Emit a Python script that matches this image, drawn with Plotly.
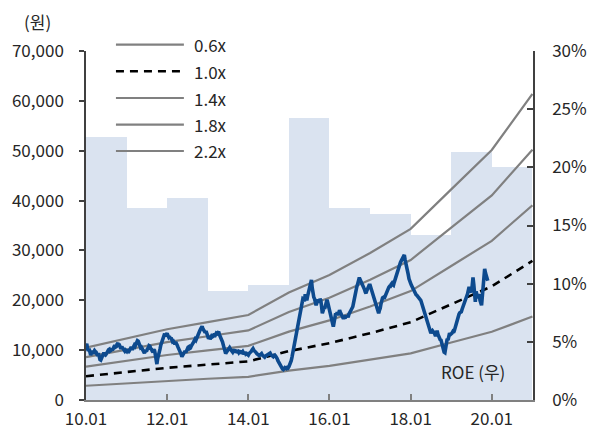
import pandas as pd
import plotly.graph_objects as go

# ---- data -------------------------------------------------------------
years = [2010, 2011, 2012, 2013, 2014, 2015, 2016, 2017, 2018, 2019, 2020]
roe_pct = [22.6, 16.5, 17.4, 9.4, 9.85, 24.2, 16.5, 15.95, 14.2, 21.3, 20.0]

# book value per share at the start of each year (원)
bps_years = [2010, 2011, 2012, 2013, 2014, 2015, 2016, 2017, 2018, 2019, 2020, 2021]
bps = [4770, 5600, 6450, 7100, 7750, 9800, 11400, 13400, 15600, 19200, 22800, 27900]

pbr_multiples = [0.6, 1.0, 1.4, 1.8, 2.2]
pbr_labels = ["0.6x", "1.0x", "1.4x", "1.8x", "2.2x"]

# weekly share price (원), one row per quarter, each year starting in the first week of January
weekly_price = {
    2010: [10800, 11300, 10200, 9900, 10300, 9600, 9000, 9400, 9900, 9300, 9500, 9900, 9700,
           9600, 9200, 8900, 9400, 8600, 8100, 8000, 8500, 8800, 9300, 9500, 9100, 9000,
           9200, 9600, 9800, 10100, 10200, 9800, 9900, 10300, 10000, 10500, 10900, 11000, 10600,
           10700, 11200, 11400, 11000, 11000, 10600, 10300, 10700, 10500, 10400, 10100, 9800, 10000],
    2011: [9800, 10200, 9500, 9700, 10000, 10400, 10600, 10300, 10300, 10700, 11000, 10800, 11300,
           11500, 11900, 11800, 11300, 11000, 10500, 10600, 10200, 10000, 9700, 9400, 9800, 9900,
           9900, 10300, 10400, 10900, 10800, 10300, 10200, 9800, 9600, 10100, 9900, 9100, 8000,
           7200, 8300, 8800, 9500, 10200, 11000, 11600, 12100, 12700, 12900, 13300, 12800, 13400],
    2012: [13400, 12900, 12600, 12800, 12300, 12500, 12000, 11700, 11800, 11500, 11200, 11600, 11000,
           11000, 10600, 10300, 10000, 9600, 9200, 8700, 9000, 9200, 9600, 9800, 9500, 10000,
           10200, 10600, 10700, 10300, 10400, 10800, 11000, 11400, 11600, 11900, 12200, 12000, 12500,
           12700, 13200, 13600, 13900, 14200, 14600, 14800, 14300, 14000, 13700, 13500, 13800, 13000],
    2013: [12800, 12300, 12600, 12200, 12700, 13000, 13200, 12800, 12900, 13300, 13100, 13400, 13300,
           13500, 13700, 13100, 12800, 12400, 12000, 11600, 11000, 10400, 9800, 9300, 9600, 9900,
           9900, 10300, 10500, 10200, 10000, 9700, 9600, 9900, 9900, 10100, 9500, 9700, 9800,
           9800, 9500, 9600, 9900, 9300, 9500, 9700, 9400, 9400, 9600, 9200, 9300, 9000],
    2014: [9000, 9300, 9400, 9700, 9800, 10100, 10300, 10000, 9900, 9600, 9500, 9300, 9100,
           9100, 8900, 9000, 9200, 9300, 9000, 8800, 8600, 8600, 8800, 8900, 9100, 9200,
           9200, 9400, 9400, 9100, 9000, 8800, 8700, 8900, 9000, 8800, 8600, 8300, 7900,
           7600, 7200, 6900, 6600, 6300, 6200, 6100, 6300, 6500, 6400, 6300, 6500, 6400],
    2015: [6700, 7000, 7400, 7900, 8600, 9500, 10400, 11200, 12000, 12900, 13500, 14500, 15200,
           15800, 16800, 18000, 19200, 19700, 20300, 20200, 19800, 21200, 20600, 20000, 20800, 21500,
           22500, 23200, 23800, 24100, 22500, 21000, 20600, 20300, 19600, 19000, 19500, 20200, 19800,
           19600, 20300, 20000, 18800, 17400, 17900, 18600, 18300, 19000, 19600, 20100, 19500, 18800],
    2016: [18500, 17500, 16800, 15800, 15000, 14700, 15600, 16200, 17400, 17000, 17600, 17000, 18000,
           18000, 17600, 17300, 16800, 16800, 16300, 16600, 16300, 17000, 16600, 16900, 16600, 17200,
           17400, 17800, 18100, 18400, 18700, 19500, 20500, 21300, 22000, 22600, 23100, 23800, 24300,
           24300, 24000, 23600, 23200, 23000, 22600, 22200, 21700, 21400, 21900, 22300, 22700, 23000],
    2017: [23000, 22500, 22000, 21400, 20700, 20200, 19800, 19200, 18700, 18200, 17600, 17400, 18000,
           18400, 19300, 20100, 20500, 20600, 20300, 20700, 21200, 21600, 22000, 22400, 22600, 22800,
           22800, 23200, 23400, 23100, 23000, 23600, 24100, 24600, 25200, 26000, 26700, 27000, 27300,
           27600, 27900, 28200, 28700, 29000, 29100, 28100, 27500, 26800, 26000, 25200, 24300, 23600],
    2018: [23400, 23000, 22600, 22200, 21800, 21500, 21300, 21100, 21000, 20800, 20600, 20300, 20100,
           20000, 19500, 19000, 18500, 18000, 17300, 16600, 16200, 15800, 15200, 14600, 14000, 13600,
           13400, 13700, 13900, 13700, 13600, 13200, 12800, 13300, 13900, 13200, 12600, 12300, 12100,
           12000, 11300, 10800, 10200, 9600, 9500, 10400, 11200, 12300, 12000, 12700, 13400, 13100],
    2019: [13200, 13400, 13700, 13500, 13900, 14500, 15200, 16000, 16700, 16900, 17200, 17500, 17700,
           17700, 18200, 18600, 19000, 19400, 19900, 20400, 20800, 21300, 22000, 22700, 22100, 21600,
           21600, 23000, 24600, 23200, 20200, 19700, 21800, 21300, 20400, 20900, 21200, 20000, 19200,
           19000, 20800, 22800, 24600, 26300, 25500, 24800, 24000, 23900],
}

# ---- styling ----------------------------------------------------------
FONT = "Noto Sans CJK KR, Noto Sans, sans-serif"
FS = 17
TXT = "#262626"
AXIS = "#404040"
GRAY = "#808080"
FILL = "#DAE3F0"
NAVY = "#0D4A8E"

year_start = [pd.Timestamp(f"{y}-01-01") for y in years]
bps_dates = [pd.Timestamp(f"{y}-01-01") for y in bps_years]
year_ms = 365.25 * 24 * 3600 * 1000

price_dates, price = [], []
for y, vals in weekly_price.items():
    price_dates.extend(pd.date_range(f"{y}-01-01", periods=len(vals), freq="7D"))
    price.extend(vals)

fig = go.Figure()

# ROE bars on the right-hand axis (primary y so it sits underneath the lines)
fig.add_trace(go.Bar(
    x=year_start, y=roe_pct, offset=0, width=[year_ms] * len(years),
    marker=dict(color=FILL, line=dict(width=0)), yaxis="y", name="ROE",
))

# PBR bands
for m, lab in zip(pbr_multiples, pbr_labels):
    dashed = (m == 1.0)
    fig.add_trace(go.Scatter(
        x=bps_dates, y=[m * b for b in bps], mode="lines", yaxis="y2", name=lab,
        line=dict(color="black" if dashed else GRAY, width=2.6 if dashed else 2.2,
                  dash="8px,6px" if dashed else "solid"),
    ))

# share price
fig.add_trace(go.Scatter(
    x=price_dates, y=price, mode="lines", yaxis="y2", name="주가",
    line=dict(color=NAVY, width=3.6),
))

# hand-drawn legend
lx0, lx1, ltx = 0.067, 0.219, 0.237
rows = [1.018, 0.9418, 0.8653, 0.7888, 0.7135]
shapes, annos = [], []
for m, lab, ry in zip(pbr_multiples, pbr_labels, rows):
    dashed = (m == 1.0)
    shapes.append(dict(type="line", xref="paper", yref="paper", x0=lx0, x1=lx1, y0=ry, y1=ry,
                       line=dict(color="black" if dashed else GRAY, width=2.6 if dashed else 2.2,
                                 dash="8px,6px" if dashed else "solid")))
    annos.append(dict(xref="paper", yref="paper", x=ltx, y=ry, text=lab, showarrow=False,
                      xanchor="left", yanchor="middle", font=dict(size=FS, color=TXT, family=FONT)))

annos.append(dict(xref="paper", yref="paper", x=-0.1096, y=1.084, text="(원)", showarrow=False,
                  xanchor="center", yanchor="middle", font=dict(size=FS, color=TXT, family=FONT)))
annos.append(dict(xref="paper", yref="paper", x=0.866, y=0.081, text="ROE (우)", showarrow=False,
                  xanchor="center", yanchor="middle", font=dict(size=FS, color=TXT, family=FONT)))

fig.update_layout(
    width=598, height=443,
    margin=dict(l=86, r=65, t=51, b=43),
    paper_bgcolor="white", plot_bgcolor="white",
    showlegend=False, bargap=0,
    font=dict(family=FONT, size=FS, color=TXT),
    shapes=shapes, annotations=annos,
    xaxis=dict(
        type="date", range=["2010-01-01", "2021-01-06"],
        tick0="2010-01-01", dtick="M24", tickformat="%y.%m",
        ticks="inside", ticklen=6, tickcolor=GRAY, tickwidth=1.5,
        showline=True, linecolor=GRAY, linewidth=2,
        showgrid=False, zeroline=False, ticklabelstandoff=3,
        tickfont=dict(size=FS, color=TXT, family=FONT),
    ),
    yaxis=dict(
        side="right", range=[0, 30], dtick=5, ticksuffix="%",
        ticks="inside", ticklen=6, tickcolor=AXIS, tickwidth=1.5,
        showline=True, linecolor=AXIS, linewidth=1.5,
        showgrid=False, zeroline=False, ticklabelstandoff=14,
        tickfont=dict(size=FS, color=TXT, family=FONT),
    ),
    yaxis2=dict(
        overlaying="y", side="left", range=[0, 70000], dtick=10000,
        tickformat=",d",
        ticks="outside", ticklen=5, tickcolor=AXIS, tickwidth=1.5,
        showline=True, linecolor=AXIS, linewidth=1.5,
        showgrid=False, zeroline=False, ticklabelstandoff=12,
        tickfont=dict(size=FS, color=TXT, family=FONT),
    ),
)

fig.write_html("out.html")
